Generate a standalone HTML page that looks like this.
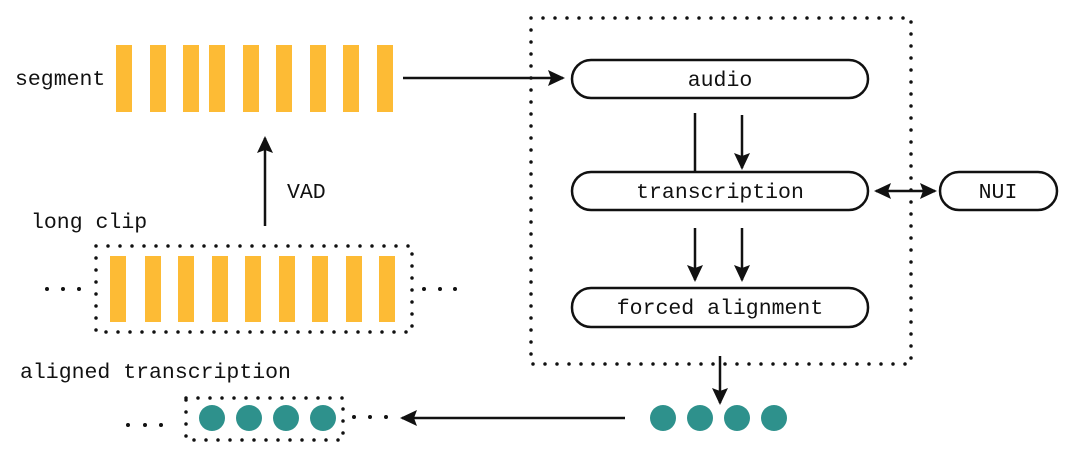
<!DOCTYPE html>
<html><head><style>
html,body{margin:0;padding:0;background:#fff;}
svg{display:block;}
text{font-family:"Liberation Mono","DejaVu Sans Mono",monospace;font-size:21.5px;fill:#111;}
</style></head><body>
<svg width="1080" height="450" viewBox="0 0 1080 450" xmlns="http://www.w3.org/2000/svg">
<defs>
<marker id="ah2" markerWidth="18" markerHeight="18" refX="15" refY="9" orient="auto-start-reverse" markerUnits="userSpaceOnUse">
<path d="M0,1 L17,9 L0,17 L3,9 Z" fill="#111"/>
</marker>
</defs>
<text x="15" y="85">segment</text>
<text x="31" y="228">long clip</text>
<text x="287" y="198">VAD</text>
<text x="20" y="378">aligned transcription</text>
<g fill="#fdbb35">
<rect x="116" y="45" width="16" height="67"/><rect x="150" y="45" width="16" height="67"/><rect x="183" y="45" width="16" height="67"/><rect x="209" y="45" width="16" height="67"/><rect x="243" y="45" width="16" height="67"/><rect x="276" y="45" width="16" height="67"/><rect x="310" y="45" width="16" height="67"/><rect x="343" y="45" width="16" height="67"/><rect x="377" y="45" width="16" height="67"/>
<rect x="110" y="256" width="16" height="66"/><rect x="145" y="256" width="16" height="66"/><rect x="178" y="256" width="16" height="66"/><rect x="212" y="256" width="16" height="66"/><rect x="245" y="256" width="16" height="66"/><rect x="279" y="256" width="16" height="66"/><rect x="312" y="256" width="16" height="66"/><rect x="346" y="256" width="16" height="66"/><rect x="379" y="256" width="16" height="66"/>
</g>
<g fill="none" stroke="#111" stroke-width="3.5" stroke-linecap="round" stroke-dasharray="0 12">
<rect x="96" y="246" width="316" height="86"/>
<rect x="531" y="18" width="380" height="346"/>
<rect x="186" y="398" width="157" height="42"/>
</g>
<g fill="#111">
<circle cx="47" cy="289" r="2"/><circle cx="63" cy="289" r="2"/><circle cx="79" cy="289" r="2"/>
<circle cx="424" cy="289" r="2"/><circle cx="440" cy="289" r="2"/><circle cx="455" cy="289" r="2"/>
<circle cx="128" cy="425" r="2"/><circle cx="145" cy="425" r="2"/><circle cx="161" cy="425" r="2"/>
<circle cx="354" cy="417" r="2"/><circle cx="370" cy="417" r="2"/><circle cx="386" cy="417" r="2"/>
</g>
<g fill="#2e918c">
<circle cx="212" cy="418" r="13"/><circle cx="249" cy="418" r="13"/><circle cx="286" cy="418" r="13"/><circle cx="323" cy="418" r="13"/>
<circle cx="663" cy="418" r="13"/><circle cx="700" cy="418" r="13"/><circle cx="737" cy="418" r="13"/><circle cx="774" cy="418" r="13"/>
</g>
<g fill="none" stroke="#111" stroke-width="2.5">
<rect x="572" y="60" width="296" height="38" rx="19"/>
<rect x="572" y="172" width="296" height="38" rx="19"/>
<rect x="572" y="288" width="296" height="39" rx="19"/>
<rect x="940" y="172" width="117" height="38" rx="19"/>
</g>
<g text-anchor="middle">
<text x="720" y="86">audio</text>
<text x="720" y="198">transcription</text>
<text x="720" y="314">forced alignment</text>
<text x="998" y="198">NUI</text>
</g>
<g stroke="#111" stroke-width="2.5" fill="none">
<line x1="403" y1="78" x2="563" y2="78" marker-end="url(#ah2)"/>
<line x1="265" y1="226" x2="265" y2="138" marker-end="url(#ah2)"/>
<line x1="695" y1="113" x2="695" y2="172"/>
<line x1="742" y1="115" x2="742" y2="168" marker-end="url(#ah2)"/>
<line x1="695" y1="228" x2="695" y2="280" marker-end="url(#ah2)"/>
<line x1="742" y1="228" x2="742" y2="280" marker-end="url(#ah2)"/>
<line x1="720" y1="356" x2="720" y2="403" marker-end="url(#ah2)"/>
<line x1="625" y1="418" x2="402" y2="418" marker-end="url(#ah2)"/>
<line x1="876" y1="191" x2="935" y2="191" marker-start="url(#ah2)" marker-end="url(#ah2)"/>
</g>
</svg>
</body></html>
